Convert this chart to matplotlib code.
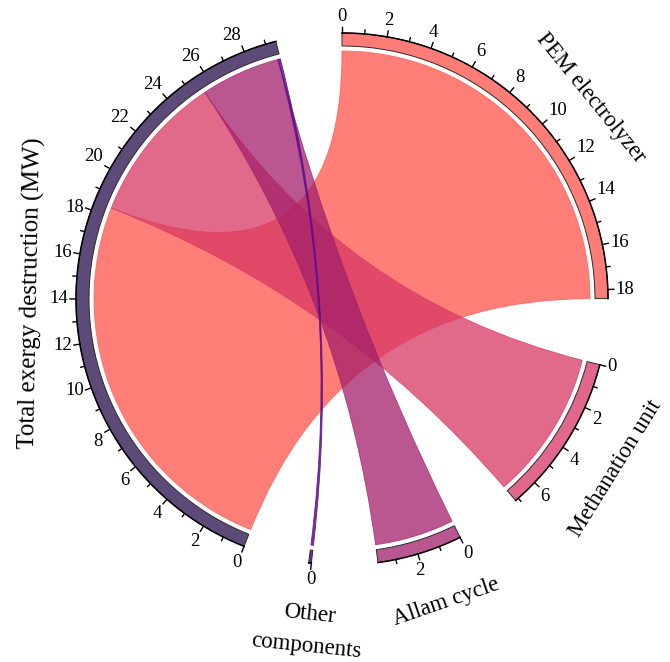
import numpy as np
import matplotlib.pyplot as plt
from matplotlib.path import Path
from matplotlib.patches import PathPatch, Wedge

plt.rcParams['font.family'] = ['Liberation Serif', 'DejaVu Serif']

# Exergy destruction of each component (MW), all flowing into the total
components = ['PEM electrolyzer', 'Methanation unit', 'Allam cycle', 'Other\ncomponents']
destruction = [18.4, 7.15, 3.8, 0.12]
total_name = 'Total exergy destruction (MW)'

arc_colors = ['#ff7d76', '#e2678c', '#ba5690', '#7a2a99']
ribbon_colors = ['#ff544b', '#d73863', '#a31f6b', '#5c0d8e']
total_color = '#5c4b78'

# geometry (axes units are pixels, circle centre at origin)
R_OUT = 266
BAND = 13
R_RIB = 248
GAP = 14.4
total = sum(destruction)
deg_per = (360 - 5 * GAP) / (2 * total)


def pt(ang, r):
    a = np.radians(ang)
    return np.array([r * np.cos(a), r * np.sin(a)])


def arc_pts(a1, a2, r, n=80):
    angs = np.linspace(a1, a2, n)
    return [pt(a, r) for a in angs]


def draw_sector(ax, start, value, color, ticks=True):
    end = start - value * deg_per
    ax.add_patch(Wedge((0, 0), R_OUT, end, start, width=BAND, fc=color,
                       ec='#2b2b2b', lw=0.7, zorder=3))
    xy = np.array(arc_pts(start, end, R_OUT))
    ax.plot(xy[:, 0], xy[:, 1], color='black', lw=1.1, zorder=4)
    kmax = int(np.floor(value + 1e-9)) if ticks else 0
    for k in range(kmax + 1):
        a = start - k * deg_per
        major = k % 2 == 0
        p0, p1 = pt(a, R_OUT), pt(a, R_OUT + (6 if major else 4))
        ax.plot([p0[0], p1[0]], [p0[1], p1[1]], color='black', lw=1.0, zorder=4)
        if major:
            c, s = np.cos(np.radians(a)), np.sin(np.radians(a))
            ha = 'left' if c > 0.35 else ('right' if c < -0.35 else 'center')
            va = 'bottom' if s > 0.35 else ('top' if s < -0.35 else 'center')
            lp = pt(a, R_OUT + 8)
            ax.text(lp[0], lp[1], str(k), ha=ha, va=va, fontsize=13.5, zorder=5)
    return end


def ribbon(ax, s1, s2, t1, t2, color, alpha=0.75):
    verts, codes = [], []
    src = arc_pts(s1, s2, R_RIB)
    verts += src
    codes += [Path.MOVETO] + [Path.LINETO] * (len(src) - 1)
    verts += [(0, 0), pt(t1, R_RIB)]
    codes += [Path.CURVE3, Path.CURVE3]
    tgt = arc_pts(t1, t2, R_RIB)[1:]
    verts += tgt
    codes += [Path.LINETO] * len(tgt)
    verts += [(0, 0), pt(s1, R_RIB), pt(s1, R_RIB)]
    codes += [Path.CURVE3, Path.CURVE3, Path.CLOSEPOLY]
    ax.add_patch(PathPatch(Path(verts, codes), fc=color, ec=color, lw=0.6,
                           alpha=alpha, zorder=2))


fig = plt.figure(figsize=(6.7, 6.62), dpi=100)
ax = fig.add_axes([0, 0, 1, 1])
ax.set_xlim(-342, 328)
ax.set_ylim(-363, 299)
ax.axis('off')

# component sectors, clockwise from the top
angle = 90.0
spans = []
for name, val, col in zip(components, destruction, arc_colors):
    end = draw_sector(ax, angle, val, col, ticks=val >= 1)
    spans.append((angle, end))
    angle = end - GAP

total_start = angle
total_end = draw_sector(ax, total_start, total, total_color)

# ribbons into the total sector
cum = 0.0
for (s1, s2), val, col in zip(spans, destruction, ribbon_colors):
    t1 = total_start - cum * deg_per
    t2 = total_start - (cum + val) * deg_per
    ribbon(ax, s1, s2, t1, t2, col, alpha=0.75 if val >= 1 else 0.85)
    cum += val

# sector names
names = components + [total_name]
starts = [s for s, _ in spans] + [total_start]
ends = [e for _, e in spans] + [total_end]
nudge = [-6, 0, 2, 1, 2.5]
radius = [320, 322, 320, 333, 311]
sizes = [16.5, 16.5, 16.5, 16.5, 18]
for name, s, e, dn, r, fs in zip(names, starts, ends, nudge, radius, sizes):
    mid = (s + e) / 2 + dn
    rot = mid - 90 if np.sin(np.radians(mid)) > 0 else mid + 90
    p = pt(mid, r)
    ax.text(p[0], p[1], name, rotation=rot, rotation_mode='anchor',
            ha='center', va='center', fontsize=fs, linespacing=1.7)

fig.savefig('out.png', dpi=100)
